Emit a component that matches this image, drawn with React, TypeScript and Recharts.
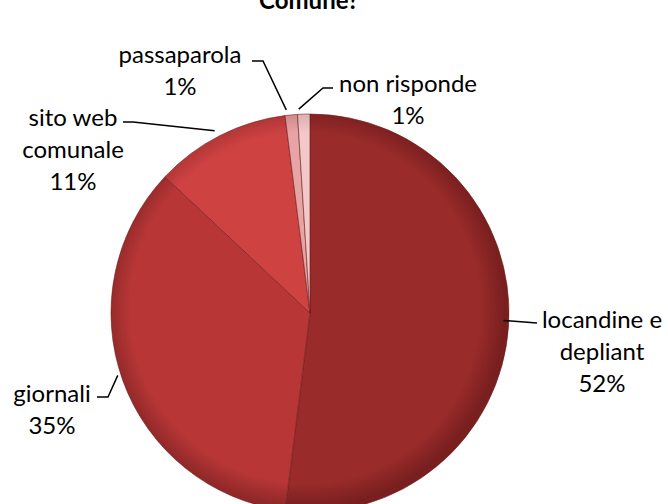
import { PieChart, Pie, Cell } from "recharts"

const categories = ["locandine e depliant", "giornali", "sito web comunale", "passaparola", "non risponde"]
const values = [52, 35, 11, 1, 1]
const labelLines = [
  ["locandine e", "depliant", "52%"],
  ["giornali", "35%"],
  ["sito web", "comunale", "11%"],
  ["passaparola", "1%"],
  ["non risponde", "1%"],
]

const colors = ["#9a2b2b", "#b83636", "#cf4242", "#e6a4a4", "#f2c8c8"]
const rims = ["#7a1f1f", "#8f2828", "#a83232", "#c98585", "#d8a8a8"]

// where Excel put each label block, relative to the pie centre
const labelPos = [
  { dx: 297, dy: 10, anchor: "end" },
  { dx: -253, dy: 84, anchor: "start" },
  { dx: -232, dy: -192, anchor: "start" },
  { dx: -125, dy: -255, anchor: "start" },
  { dx: 103, dy: -226, anchor: "end" },
]
// leader line bends, relative to the pie centre
const leaderBends = [
  [[232, 15]],
  [[-197, 89], [-208, 89]],
  [[-172, -186], [-182, -186]],
  [[-42, -247], [-53, -247]],
  [[18, -220], [28, -220]],
]

const data = categories.map((name, i) => ({ name, value: values[i] }))

const CX = 305
const CY = 308
const R = 199
const RAD = Math.PI / 180
const LINE_H = 32

function renderLabel(props: any) {
  const { midAngle, index } = props
  const pos = labelPos[index]
  const lines = labelLines[index]
  const ex = CX + R * Math.cos(-midAngle * RAD)
  const ey = CY + R * Math.sin(-midAngle * RAD)
  const bends = leaderBends[index].map(([x, y]) => `${CX + x},${CY + y}`)
  const pts = [`${ex},${ey}`, ...bends].join(" ")
  const tx = CX + pos.dx
  const ty = CY + pos.dy
  const half = lines.length > 2 ? 0 : 0
  return (
    <g key={`lbl-${index}`}>
      <polyline points={pts} fill="none" stroke="#000" strokeWidth={1.5} />
      {lines.map((t, k) => {
        // center each line on the widest one
        return (
          <text
            key={k}
            x={tx}
            y={ty + k * LINE_H + half}
            textAnchor="middle"
            dominantBaseline="central"
            fontFamily="Lato, 'Open Sans', sans-serif"
            fontSize={24}
            fill="#000"
          >
            {t}
          </text>
        )
      })}
    </g>
  )
}

export default function App() {
  return (
    <div style={{ position: "absolute", left: 0, top: 0, background: "#fff" }}>
      <PieChart width={668} height={504}>
        <defs>
          {colors.map((c, i) => (
            <radialGradient
              key={i}
              id={`grad-${i}`}
              cx={CX}
              cy={CY}
              r={R}
              gradientUnits="userSpaceOnUse"
            >
              <stop offset="0%" stopColor={c} />
              <stop offset="88%" stopColor={c} />
              <stop offset="100%" stopColor={rims[i]} />
            </radialGradient>
          ))}
        </defs>
        <text
          x={309}
          y={9}
          textAnchor="middle"
          fontFamily="Lato, 'Open Sans', sans-serif"
          fontWeight="bold"
          fontSize={24}
          fill="#000"
        >
          Comune?
        </text>
        <Pie
          data={data}
          dataKey="value"
          nameKey="name"
          cx={CX}
          cy={CY}
          outerRadius={R}
          startAngle={90}
          endAngle={-270}
          stroke="#6e1c1c"
          strokeWidth={0.6}
          labelLine={false}
          label={renderLabel}
          isAnimationActive={false}
        >
          {data.map((entry, index) => (
            <Cell key={`cell-${index}`} fill={`url(#grad-${index})`} />
          ))}
        </Pie>
      </PieChart>
    </div>
  )
}
